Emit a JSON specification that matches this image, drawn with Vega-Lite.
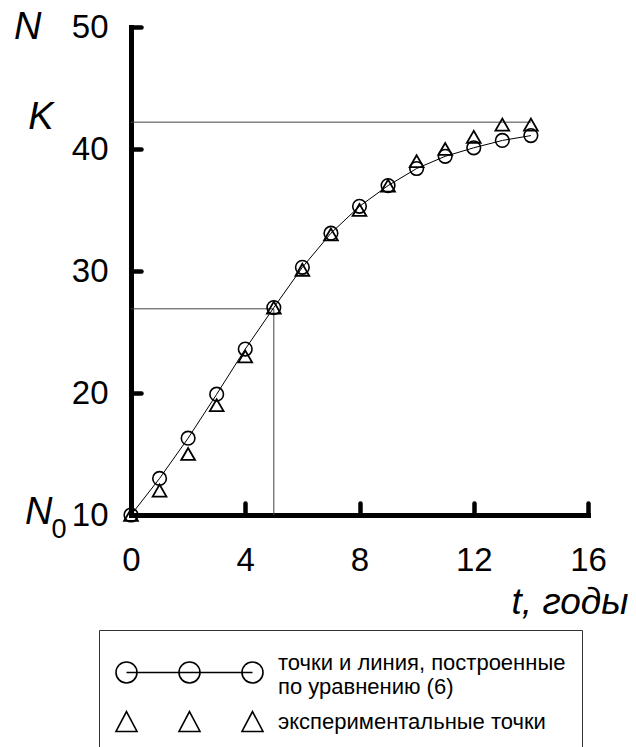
{
  "$schema": "https://vega.github.io/schema/vega-lite/v6.json",
  "width": 457,
  "height": 488,
  "autosize": {"type": "none"},
  "padding": {"left": 131, "top": 27, "right": 48, "bottom": 232},
  "background": "white",
  "config": {
    "view": {"stroke": null},
    "font": "Liberation Sans",
    "axis": {"grid": false, "labelColor": "black", "titleColor": "black", "labelFont": "Liberation Sans", "titleFont": "Liberation Sans"}
  },
  "datasets": {
    "model": [
      {"t": 0, "N": 10}, {"t": 1, "N": 13.0}, {"t": 2, "N": 16.3}, {"t": 3, "N": 19.9},
      {"t": 4, "N": 23.6}, {"t": 5, "N": 27.0}, {"t": 6, "N": 30.3}, {"t": 7, "N": 33.1},
      {"t": 8, "N": 35.3}, {"t": 9, "N": 37.0}, {"t": 10, "N": 38.4}, {"t": 11, "N": 39.4},
      {"t": 12, "N": 40.1}, {"t": 13, "N": 40.7}, {"t": 14, "N": 41.1}
    ],
    "exp": [
      {"t": 0, "N": 10}, {"t": 1, "N": 12.0}, {"t": 2, "N": 15.0}, {"t": 3, "N": 19.0},
      {"t": 4, "N": 23.0}, {"t": 5, "N": 27.0}, {"t": 6, "N": 30.1}, {"t": 7, "N": 33.0},
      {"t": 8, "N": 35.0}, {"t": 9, "N": 37.0}, {"t": 10, "N": 39.0}, {"t": 11, "N": 40.0},
      {"t": 12, "N": 41.0}, {"t": 13, "N": 42.0}, {"t": 14, "N": 42.0}
    ],
    "guides": [
      {"t": 0, "t2": 14, "N": 42.2, "N2": 42.2},
      {"t": 0, "t2": 5, "N": 26.9, "N2": 26.9},
      {"t": 5, "t2": 5, "N": 10, "N2": 26.9}
    ],
    "legend": [
      {"t": 0, "N": 10, "series": "model"},
      {"t": 0, "N": 10, "series": "exp"}
    ]
  },
  "layer": [
    {
      "data": {"name": "guides"},
      "mark": {"type": "rule", "color": "#444", "strokeWidth": 1},
      "encoding": {
        "x": {
          "field": "t", "type": "quantitative",
          "scale": {"domain": [0, 16], "nice": false, "zero": false},
          "axis": {
            "orient": "bottom",
            "values": [0, 4, 8, 12, 16],
            "labelFontSize": 33, "labelPadding": 29, "labelFlush": false, "labelOverlap": false,
            "ticks": false, "tickSize": 0,
            "domainWidth": 5, "domainColor": "black", "domainCap": "square",
            "title": "t, годы", "titleFontSize": 37, "titleFontStyle": "italic", "titleFontWeight": "normal",
            "titleAnchor": "end", "titleAlign": "right", "titleBaseline": "alphabetic",
            "titleX": 497, "titleY": 98
          }
        },
        "x2": {"field": "t2"},
        "y": {
          "field": "N", "type": "quantitative",
          "scale": {"domain": [10, 50], "nice": false, "zero": false},
          "axis": {
            "orient": "left",
            "values": [10, 20, 30, 40, 50],
            "labelFontSize": 33, "labelPadding": 23, "labelFlush": false, "labelOverlap": false,
            "ticks": false, "tickSize": 0,
            "domainWidth": 5, "domainColor": "black", "domainCap": "square",
            "title": null
          }
        },
        "y2": {"field": "N2"}
      }
    },
    {
      "data": {"name": "model"},
      "mark": {"type": "line", "color": "black", "strokeWidth": 1},
      "encoding": {
        "x": {
          "field": "t", "type": "quantitative",
          "scale": {"domain": [0, 16], "nice": false, "zero": false},
          "axis": {
            "orient": "bottom", "values": [0, 4, 8, 12, 16],
            "domain": false, "labels": false, "grid": false, "title": null,
            "ticks": true, "tickSize": 12, "tickWidth": 4.5, "tickColor": "black", "tickCap": "round",
            "offset": -12
          }
        },
        "y": {
          "field": "N", "type": "quantitative",
          "scale": {"domain": [10, 50], "nice": false, "zero": false},
          "axis": {
            "orient": "left", "values": [10, 20, 30, 40, 50],
            "domain": false, "labels": false, "grid": false, "title": null,
            "ticks": true, "tickSize": 10, "tickWidth": 4.5, "tickColor": "black", "tickCap": "round",
            "offset": -10
          }
        }
      }
    },
    {
      "data": {"name": "exp"},
      "mark": {"type": "point", "shape": "triangle-up", "filled": false, "color": "black", "size": 190, "strokeWidth": 1.8, "opacity": 1},
      "encoding": {
        "x": {"field": "t", "type": "quantitative", "scale": {"domain": [0, 16], "nice": false, "zero": false}, "axis": null},
        "y": {"field": "N", "type": "quantitative", "scale": {"domain": [10, 50], "nice": false, "zero": false}, "axis": null}
      }
    },
    {
      "data": {"name": "model"},
      "mark": {"type": "point", "shape": "circle", "filled": false, "color": "black", "size": 185, "strokeWidth": 1.6, "opacity": 1},
      "encoding": {
        "x": {"field": "t", "type": "quantitative", "scale": {"domain": [0, 16], "nice": false, "zero": false}, "axis": null},
        "y": {"field": "N", "type": "quantitative", "scale": {"domain": [10, 50], "nice": false, "zero": false}, "axis": null}
      }
    },
    {
      "data": {"name": "legend"},
      "mark": {"type": "point", "filled": false, "color": "black", "strokeWidth": 1.6, "opacity": 0},
      "encoding": {
        "x": {"field": "t", "type": "quantitative", "scale": {"domain": [0, 16], "nice": false, "zero": false}, "axis": null},
        "y": {
          "field": "N", "type": "quantitative",
          "scale": {"domain": [10, 50], "nice": false, "zero": false},
          "axis": {
            "orient": "left",
            "values": [10, 10.2, 42.6, 50],
            "labelExpr": "datum.value == 10 ? '0' : datum.value > 45 ? 'N' : datum.value > 40 ? 'K' : 'N'",
            "domain": false, "ticks": false, "tickSize": 0, "grid": false, "title": null,
            "labelFlush": false, "labelOverlap": false,
            "labelFontSize": {"condition": {"test": "datum.value == 10", "value": 27}, "value": 38},
            "labelFontStyle": {"condition": {"test": "datum.value == 10", "value": "normal"}, "value": "italic"},
            "labelOffset": {"condition": {"test": "datum.value == 10", "value": 14}, "value": 0},
            "labelPadding": {"condition": [
              {"test": "datum.value == 10", "value": 65},
              {"test": "datum.value > 45", "value": 90},
              {"test": "datum.value > 40", "value": 78}
            ], "value": 79}
          }
        },
        "shape": {
          "field": "series", "type": "nominal",
          "scale": {
            "domain": ["model", "exp"],
            "range": [
              "M0,0.95L12,0.95M1,0.95A1,1,0,1,1,-1,0.95A1,1,0,1,1,1,0.95M7,0.95A1,1,0,1,1,5,0.95A1,1,0,1,1,7,0.95M13,0.95A1,1,0,1,1,11,0.95A1,1,0,1,1,13,0.95",
              "M0,-0.95L1,0.95L-1,0.95ZM6,-0.95L7,0.95L5,0.95ZM12,-0.95L13,0.95L11,0.95Z"
            ]
          },
          "legend": {
            "orient": "none", "legendX": -32, "legendY": 603, "direction": "vertical",
            "title": " ", "titleFontSize": 1, "titlePadding": 4,
            "symbolSize": 441, "symbolStrokeWidth": 1.6, "symbolStrokeColor": "black",
            "symbolFillColor": "transparent", "symbolOpacity": 1,
            "labelFontSize": 22, "labelFont": "Liberation Sans", "labelColor": "black",
            "labelOffset": 140, "labelLimit": 0,
            "labelExpr": "datum.label == 'model' ? ['точки и линия, построенные', 'по уравнению (6)'] : 'экспериментальные точки'",
            "padding": 16, "strokeColor": "#333", "fillColor": "white", "rowPadding": 10
          }
        }
      }
    }
  ],
  "resolve": {"axis": {"x": "independent", "y": "independent"}}
}
